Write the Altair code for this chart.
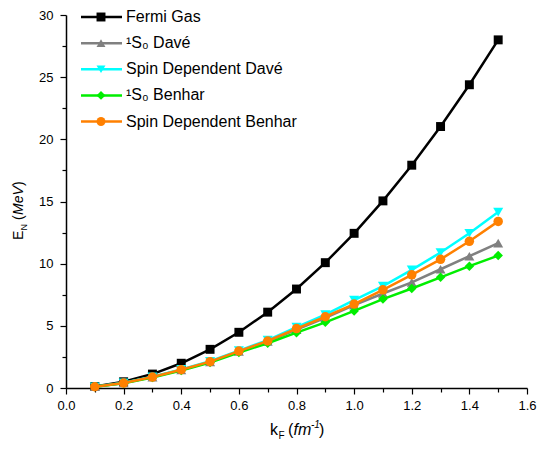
import altair as alt
import pandas as pd

# ---------------- data ----------------
k = [0.1, 0.2, 0.3, 0.4, 0.5, 0.6, 0.7, 0.8, 0.9, 1.0, 1.1, 1.2, 1.3, 1.4, 1.5]
fermi = [0.12, 0.50, 1.12, 1.99, 3.11, 4.48, 6.10, 7.96, 10.08, 12.44, 15.05, 17.92, 21.03, 24.39, 28.0]
s0_dave = [0.10, 0.40, 0.88, 1.45, 2.10, 2.95, 3.75, 4.70, 5.65, 6.67, 7.60, 8.50, 9.55, 10.60, 11.65]
sd_dave = [0.10, 0.42, 0.90, 1.50, 2.15, 3.00, 3.85, 4.90, 5.90, 7.07, 8.20, 9.50, 10.90, 12.45, 14.15]
s0_benhar = [0.10, 0.39, 0.85, 1.40, 2.05, 2.85, 3.60, 4.45, 5.28, 6.20, 7.15, 8.00, 8.90, 9.80, 10.65]
sd_benhar = [0.10, 0.40, 0.88, 1.47, 2.12, 2.97, 3.78, 4.78, 5.73, 6.75, 7.90, 9.10, 10.35, 11.80, 13.40]

names = ["Fermi Gas", "¹S₀ Davé", "Spin Dependent Davé", "¹S₀ Benhar", "Spin Dependent Benhar"]
series = [fermi, s0_dave, sd_dave, s0_benhar, sd_benhar]
colors = ["#000000", "#808080", "#00FFFF", "#00EE00", "#FF8000"]
shapes = ["square", "triangle-up", "triangle-down", "diamond", "circle"]
sizes = [80, 100, 100, 90, 90]

x_major = [0.0, 0.2, 0.4, 0.6, 0.8, 1.0, 1.2, 1.4, 1.6]
x_minor = [0.1, 0.3, 0.5, 0.7, 0.9, 1.1, 1.3, 1.5]
y_major = [0, 5, 10, 15, 20, 25, 30]
y_minor = [2.5, 7.5, 12.5, 17.5, 22.5, 27.5]

FONT = "Liberation Sans"

xs = alt.Scale(domain=[0, 1.6], nice=False, zero=False)
ys = alt.Scale(domain=[0, 30], nice=False, zero=False)

df0 = pd.DataFrame({"k": k, "E": fermi})

axis_major = alt.Chart(df0).mark_point(opacity=0).encode(
    x=alt.X("k:Q", scale=xs, axis=alt.Axis(values=x_major, format=".1f", tickSize=6, labelPadding=5,
                                           labelFlush=False, orient="bottom", title=None, grid=False)),
    y=alt.Y("E:Q", scale=ys, axis=alt.Axis(values=y_major, format="d", tickSize=6, labelPadding=7,
                                           labelFlush=False, orient="left", title=None, grid=False)),
)
axis_minor = alt.Chart(df0).mark_point(opacity=0).encode(
    x=alt.X("k:Q", scale=xs, axis=alt.Axis(values=x_minor, labels=False, domain=False, tickSize=4,
                                           orient="bottom", title=None, grid=False)),
    y=alt.Y("E:Q", scale=ys, axis=alt.Axis(values=y_minor, labels=False, domain=False, tickSize=4,
                                           orient="left", title=None, grid=False)),
)

layers = [axis_major, axis_minor]
for name, vals, col, shp, sz in zip(names, series, colors, shapes, sizes):
    d = pd.DataFrame({"k": k, "E": vals, "series": name})
    base = alt.Chart(d).encode(
        x=alt.X("k:Q", scale=xs, axis=None),
        y=alt.Y("E:Q", scale=ys, axis=None),
    )
    layers.append(base.mark_line(color=col, strokeWidth=2.5))
    layers.append(base.mark_point(color=col, fill=col, filled=True, shape=shp, size=sz, opacity=1))

# ---------------- legend ----------------
leg = pd.DataFrame({"idx": list(range(len(names))), "name": names})
ly = alt.Y("idx:Q", scale=alt.Scale(domain=[0, 4], range=[2, 106.5]), axis=None)
lc = alt.Color("name:N", scale=alt.Scale(domain=names, range=colors), legend=None)
lshape = alt.Shape("name:N", scale=alt.Scale(domain=names, range=shapes), legend=None)
layers.append(alt.Chart(leg).mark_rule(strokeWidth=2.5).encode(
    x=alt.value(15), x2=alt.value(56), y=ly, color=lc))
layers.append(alt.Chart(leg).mark_point(filled=True, size=80, opacity=1).encode(
    x=alt.value(35), y=ly, color=lc, shape=lshape))
layers.append(alt.Chart(leg).mark_text(align="left", baseline="middle", fontSize=16, font=FONT,
                                       color="black").encode(
    x=alt.value(60), y=ly, text="name:N"))

# ---------------- axis titles ----------------
one = pd.DataFrame({"t": [0]})


def txt(s, x, y, size, angle=0, italic=False):
    kw = dict(align="left", baseline="alphabetic", fontSize=size, font=FONT, color="black")
    if angle:
        kw["angle"] = angle
    if italic:
        kw["fontStyle"] = "italic"
    return alt.Chart(one).mark_text(**kw).encode(x=alt.value(x), y=alt.value(y), text=alt.value(s))


layers += [
    txt("E", -43, 225, 14, 270),
    txt("N", -39, 215.5, 9, 270),
    txt("(", -43, 205, 14, 270),
    txt("MeV", -43, 200, 14, 270, True),
    txt(")", -43, 171, 14, 270),
    txt("k", 204, 420, 16),
    txt("F", 212.5, 424, 10),
    txt("(", 222, 420, 16),
    txt("fm", 227.5, 420, 16, italic=True),
    txt("-1", 245, 413, 10, italic=True),
    txt(")", 253, 420, 16),
]

chart = alt.layer(*layers).resolve_scale(
    x="independent", y="independent", color="independent", shape="independent"
).resolve_axis(x="independent", y="independent").properties(
    width=461, height=373,
    autosize=alt.AutoSizeParams(type="none"),
    padding={"left": 58, "top": 7, "right": 11, "bottom": 54},
).configure_view(stroke=None).configure_axis(
    labelFont=FONT, labelFontSize=13, labelColor="black",
    tickColor="black", domainColor="black", domainWidth=1.5, tickWidth=1.2,
)

chart.save("out.html", embed_options={"renderer": "svg", "actions": False})
